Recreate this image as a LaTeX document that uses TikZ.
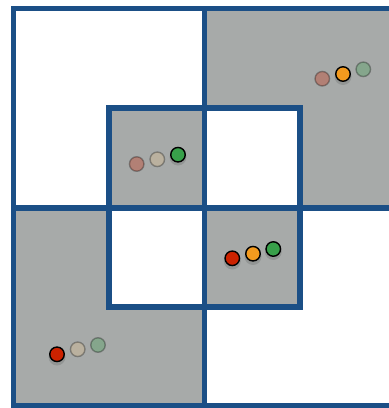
\documentclass[tikz,border=0pt]{standalone}
\usetikzlibrary{calc}
\definecolor{gridblue}{HTML}{1B4F86}
\definecolor{cellgray}{HTML}{A7AAA9}
\definecolor{dotred}{HTML}{CC2200}
\definecolor{dotorange}{HTML}{F39A1E}
\definecolor{dotgreen}{HTML}{38A04A}
\definecolor{dottan}{HTML}{E8C48A}
\tikzset{
  gridline/.style={draw=gridblue,line width=5.5pt},
  cell/.style={fill=cellgray},
  dot/.style={circle,draw=black,line width=1.4pt,minimum size=14.5pt,inner sep=0pt},
  faded/.style={opacity=0.3},
  dotshadow/.style={circle,fill=black,opacity=0.12,minimum size=17pt,inner sep=0pt},
}
\begin{document}
\begin{tikzpicture}[x=1pt,y=-1pt]
\useasboundingbox (0,0) rectangle (389,408);
\fill[white] (0,0) rectangle (389,408);
% gray cells
\fill[cell] (204.5,8.5) rectangle (395,208);
\fill[cell] (13.5,208) rectangle (204.5,406);
\fill[cell] (109,108) rectangle (204.5,208);
\fill[cell] (204.5,208) rectangle (300,307);
\fill[white] (204.5,108) rectangle (300,208);
\fill[white] (109,208) rectangle (204.5,307);
% grid
\draw[gridline] (13.5,8.5) rectangle (395,406);
\draw[gridline] (204.5,8.5) -- (204.5,406);
\draw[gridline] (13.5,208) -- (395,208);
\draw[gridline] (109,108) rectangle (300,307);
% shadows
\foreach \p in {(178,157),(343,76.5),(232.3,261),(253,256.5),(273.3,251.5),(57,357)}
  \node[dotshadow] at \p {};
% inner top-left
\node[dot,fill=dotred,faded] (a1) at (136.7,164) {};
\node[dot,fill=dottan,faded] (a2) at (157.3,159.3) {};
\node[dot,fill=dotgreen] (a3) at (178,154.7) {};
% top right
\node[dot,fill=dotred,faded] (b1) at (322.3,78.7) {};
\node[dot,fill=dotorange] (b2) at (343,74) {};
\node[dot,fill=dotgreen,faded] (b3) at (363.3,69.3) {};
% inner bottom right
\node[dot,fill=dotred] (c1) at (232.3,258.3) {};
\node[dot,fill=dotorange] (c2) at (253,253.7) {};
\node[dot,fill=dotgreen] (c3) at (273.3,249) {};
% bottom left
\node[dot,fill=dotred] (d1) at (57,354.3) {};
\node[dot,fill=dottan,faded] (d2) at (77.7,349.3) {};
\node[dot,fill=dotgreen,faded] (d3) at (98,345) {};
\end{tikzpicture}
\end{document}
